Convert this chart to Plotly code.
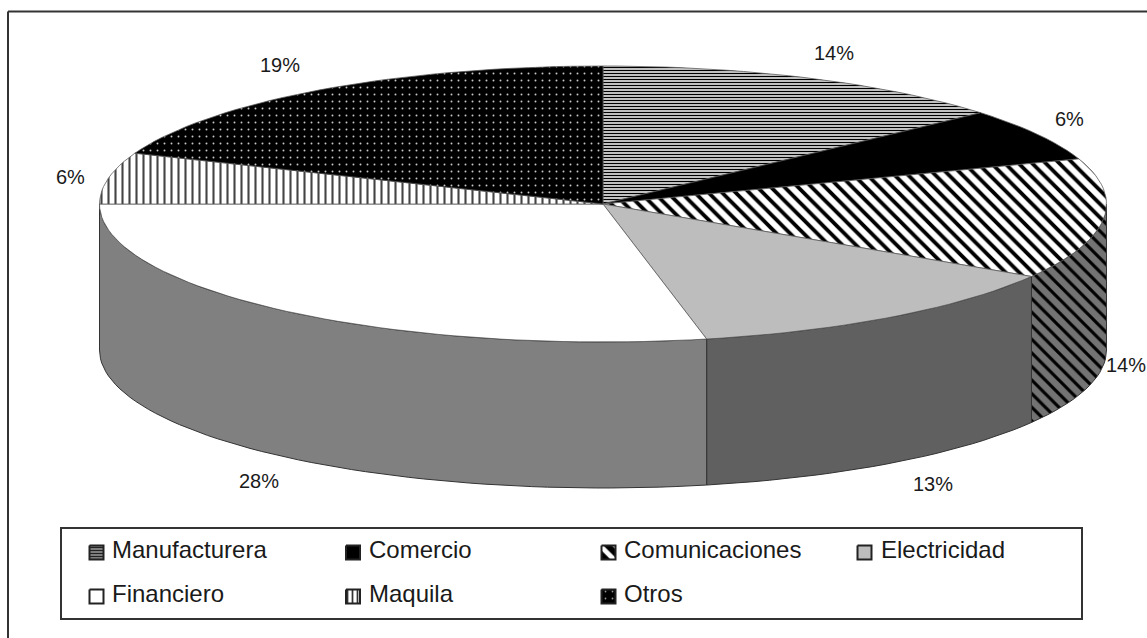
import math
import plotly.graph_objects as go

# ---- data ----
categories = ["Manufacturera", "Comercio", "Comunicaciones", "Electricidad", "Financiero", "Maquila", "Otros"]
values = [13.5, 6.2, 14.1, 12.9, 28.3, 6.0, 19.0]
value_labels = ["14%", "6%", "14%", "13%", "28%", "6%", "19%"]

# ---- geometry and style ----
W, H = 1147, 638
CX, CY, RX, RY, DEPTH = 603, 204, 503.5, 138, 146
STEP = 0.5  # percent per arc sample


def pat(shape, size, solidity, fg, bg):
    return dict(shape=shape, size=size, solidity=solidity, fgcolor=fg, bgcolor=bg, fgopacity=1)


top_style = [
    dict(fillcolor="#808080", fillpattern=pat("-", 3, 0.5, "#000000", "#ffffff")),
    dict(fillcolor="#000000"),
    dict(fillcolor="#ffffff", fillpattern=pat("\\", 9.6, 0.4, "#000000", "#ffffff")),
    dict(fillcolor="#bdbdbd"),
    dict(fillcolor="#ffffff"),
    dict(fillcolor="#ffffff", fillpattern=pat("|", 7, 0.3, "#444444", "#ffffff")),
    dict(fillcolor="#000000", fillpattern=pat(".", 7, 0.06, "#c8c8c8", "#000000")),
]
side_style = {
    2: dict(fillcolor="#6e6e6e", fillpattern=pat("\\", 9.6, 0.33, "#000000", "#737373")),
    3: dict(fillcolor="#606060"),
    4: dict(fillcolor="#808080"),
}
swatch_style = [
    dict(fillcolor="#808080", fillpattern=pat("-", 3, 0.6, "#222222", "#bbbbbb")),
    dict(fillcolor="#000000"),
    dict(fillcolor="#ffffff", fillpattern=pat("\\", 11, 0.55, "#000000", "#ffffff")),
    dict(fillcolor="#bdbdbd"),
    dict(fillcolor="#ffffff"),
    dict(fillcolor="#ffffff", fillpattern=pat("|", 5, 0.35, "#333333", "#ffffff")),
    dict(fillcolor="#000000", fillpattern=pat(".", 7, 0.05, "#999999", "#000000")),
]
# label offset from the slice's rim point, in px
label_shift = [(24, -25), (32, -15.5), (23, 146), (40, 167), (-27, 170), (-38, -1), (-40, -25)]

legend_swatch_x = [96.5, 353, 608.5, 864.5]
legend_swatch_y = [552.5, 596.5]
legend_text_x = [110, 367, 622, 879]
legend_text_y = [549, 593]


def rim(pct, drop=0):
    a = 2 * math.pi * pct / 100
    return CX + RX * math.sin(a), CY - RY * math.cos(a) + drop


def arc(p0, p1, drop=0):
    n = max(2, int(abs(p1 - p0) / STEP) + 1)
    pts = [rim(p0 + (p1 - p0) * i / (n - 1), drop) for i in range(n)]
    return [p[0] for p in pts], [p[1] for p in pts]


fig = go.Figure()
edges = [sum(values[:i]) for i in range(len(values) + 1)]
EDGE = dict(color="#333333", width=1)

# side wall
for i, st in side_style.items():
    a, b = max(edges[i], 25), min(edges[i + 1], 75)
    tx, ty = arc(a, b)
    bx, by = arc(b, a, DEPTH)
    fig.add_trace(go.Scatter(x=tx + bx + tx[:1], y=ty + by + ty[:1], mode="lines", fill="toself",
                             line=EDGE, showlegend=False, hoverinfo="skip", **st))
# top face
for i, name in enumerate(categories):
    ax, ay = arc(edges[i], edges[i + 1])
    fig.add_trace(go.Scatter(x=[CX] + ax + [CX], y=[CY] + ay + [CY], mode="lines", fill="toself",
                             name=name, line=dict(color="#555555", width=0.75), showlegend=False,
                             hovertemplate=f"{name}: {value_labels[i]}<extra></extra>", **top_style[i]))

annotations = []
for i, lab in enumerate(value_labels):
    mid = (edges[i] + edges[i + 1]) / 2
    x, y = rim(mid)
    annotations.append(dict(x=x + label_shift[i][0], y=y + label_shift[i][1], text=lab, showarrow=False,
                            xref="x", yref="y", font=dict(size=20, color="#1a1a1a")))

# legend
for i, name in enumerate(categories):
    col, row = i % 4, i // 4
    sx, sy = legend_swatch_x[col], legend_swatch_y[row]
    s = 7
    fig.add_trace(go.Scatter(x=[sx - s, sx + s, sx + s, sx - s, sx - s], y=[sy - s, sy - s, sy + s, sy + s, sy - s],
                             mode="lines", fill="toself", line=dict(color="#222222", width=2),
                             showlegend=False, hoverinfo="skip", **swatch_style[i]))
    annotations.append(dict(x=legend_text_x[col], y=legend_text_y[row], text=name, showarrow=False, xanchor="left",
                            xref="x", yref="y", font=dict(size=24, color="#1a1a1a")))

FRAME = dict(color="#333333", width=2)
shapes = [
    dict(type="line", xref="x", yref="y", x0=8, y0=11.5, x1=8, y1=H, line=FRAME),
    dict(type="line", xref="x", yref="y", x0=8, y0=11.5, x1=W, y1=11.5, line=FRAME),
    dict(type="rect", xref="x", yref="y", x0=61, y0=528, x1=1082, y1=619, line=FRAME, fillcolor="rgba(0,0,0,0)"),
]

fig.update_layout(
    width=W, height=H, margin=dict(l=0, r=0, t=0, b=0),
    paper_bgcolor="white", plot_bgcolor="white", showlegend=False,
    font=dict(family="Liberation Sans, Arial, sans-serif"),
    xaxis=dict(range=[0, W], visible=False, fixedrange=True),
    yaxis=dict(range=[H, 0], visible=False, fixedrange=True),
    annotations=annotations, shapes=shapes,
)
fig.write_html("out.html", config=dict(displayModeBar=False),
               post_script="document.body.style.margin='0';document.body.style.overflow='hidden';")
